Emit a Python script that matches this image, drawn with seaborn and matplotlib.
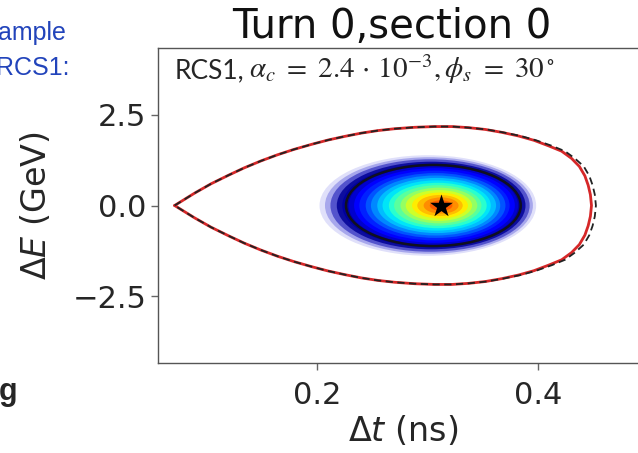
import pandas as pd
import seaborn as sns
import matplotlib.pyplot as plt
from matplotlib.patches import Ellipse

# separatrix, upper half, lower half is the mirror
t_sep = [0.071, 0.080, 0.089, 0.104, 0.120, 0.134, 0.149, 0.164, 0.179, 0.195,
         0.210, 0.225, 0.240, 0.255, 0.270, 0.288, 0.306, 0.322, 0.337, 0.352,
         0.367, 0.382, 0.396, 0.409, 0.421, 0.430, 0.437, 0.442, 0.445, 0.447, 0.448]
dE_sep = [0.00, 0.17, 0.34, 0.60, 0.84, 1.04, 1.23, 1.40, 1.55, 1.69,
          1.81, 1.91, 2.00, 2.07, 2.12, 2.16, 2.18, 2.18, 2.15, 2.10,
          2.02, 1.92, 1.80, 1.65, 1.50, 1.30, 1.08, 0.82, 0.56, 0.30, 0.00]
# dashed separatrix sits a little further out on the right side
t_sep_dash = [0.071, 0.080, 0.089, 0.104, 0.120, 0.134, 0.149, 0.164, 0.179, 0.195,
              0.210, 0.225, 0.240, 0.255, 0.270, 0.288, 0.306, 0.322, 0.337, 0.353,
              0.368, 0.384, 0.398, 0.412, 0.424, 0.433, 0.441, 0.446, 0.449, 0.451, 0.452]

# bunch: nested bands, outside -> inside
ring_t0, ring_wt, ring_wE = 0.305, 0.079, 1.12   # black contour
band_r = [1.24, 1.19, 1.14, 1.08, 1.03, 0.97, 0.92, 0.86, 0.80, 0.74,
          0.68, 0.62, 0.56, 0.50, 0.44, 0.38, 0.32, 0.26, 0.20, 0.13]
band_t0 = [0.300, 0.301, 0.302, 0.303, 0.304, 0.305, 0.306, 0.306, 0.307, 0.307,
           0.308, 0.308, 0.309, 0.309, 0.310, 0.310, 0.311, 0.311, 0.312, 0.312]
band_lvl = [0.08, 0.06, 0.04, 0.02, 0.03, 0.07, 0.11, 0.16, 0.21, 0.26,
            0.31, 0.35, 0.40, 0.46, 0.53, 0.60, 0.66, 0.71, 0.76, 0.81]
band_alpha = [0.12, 0.25, 0.5, 0.85, 1, 1, 1, 1, 1, 1,
              1, 1, 1, 1, 1, 1, 1, 1, 1, 1]
star = (0.312, 0.0)

x_ticks = [0.2, 0.4]
y_ticks = [-2.5, 0.0, 2.5]


def main():
    sns.set_style("ticks")
    plt.rcParams['font.family'] = ['DejaVu Sans']
    plt.rcParams['mathtext.fontset'] = 'dejavusans'

    fig = plt.figure(figsize=(6.38, 4.53), dpi=100)
    ax = fig.add_axes([158 / 638, 1 - 363 / 453, (649 - 158) / 638, (363 - 48) / 453])

    cmap = plt.get_cmap('jet')
    for r, t0, lv, al in zip(band_r, band_t0, band_lvl, band_alpha):
        ax.add_patch(Ellipse((t0, 0), 2 * ring_wt * r, 2 * ring_wE * r,
                             color=cmap(lv), alpha=al, lw=0))
    ax.add_patch(Ellipse((ring_t0, 0), 2 * ring_wt, 2 * ring_wE, fill=False,
                         ec='#101020', lw=1.8))

    t_loop = t_sep + t_sep[::-1]
    dE_loop = dE_sep + [-v for v in dE_sep[::-1]]
    red = pd.DataFrame({'t': t_loop, 'dE': dE_loop})
    dash = pd.DataFrame({'t': t_sep_dash + t_sep_dash[::-1], 'dE': dE_loop})
    sns.lineplot(data=red, x='t', y='dE', sort=False, estimator=None,
                 color='#d62728', lw=2, ax=ax)
    sns.lineplot(data=dash, x='t', y='dE', sort=False, estimator=None,
                 color='#222222', lw=1.3, linestyle=(0, (4, 2.5)), ax=ax)

    sns.scatterplot(x=[star[0]], y=[star[1]], marker='*', s=300, color='k',
                    linewidth=0, zorder=5, ax=ax)

    ax.set_xlim(0.056, 0.5)
    ax.set_ylim(-4.35, 4.35)
    ax.set_xticks(x_ticks)
    ax.set_yticks(y_ticks)
    ax.set_yticklabels(['\u22122.5', '0.0', '2.5'])
    ax.tick_params(labelsize=22, color='#666666', length=5, width=1)
    ax.tick_params(axis='x', pad=8)
    for s in ax.spines.values():
        s.set_color('#555555')
        s.set_linewidth(1)
    ax.set_xlabel(r'$\Delta t$ (ns)', fontsize=24, labelpad=3)
    ax.set_ylabel(r'$\Delta E$ (GeV)', fontsize=24, labelpad=14)

    fig.text(392 / 638, 1 - 38 / 453, 'Turn 0,section 0', fontsize=29,
             ha='center', va='baseline', color='#111111')
    # annotation pasted on the slide: sans text + math in a serif face
    fig.text(175 / 638, 1 - 78 / 453, 'RCS1,', fontsize=19, family='Lato',
             ha='left', va='baseline')
    fig.text(249 / 638, 1 - 78 / 453,
             r'$\alpha_c\ =\ 2.4\,\cdot\,10^{-3},\phi_s\ =\ 30^\circ$',
             fontsize=21, math_fontfamily='stix', ha='left', va='baseline')

    # bits of the slide around the picture
    fig.text(66 / 638, 1 - 40 / 453, 'ample', fontsize=18, family='Liberation Sans',
             color='#2244bb', ha='right', va='baseline')
    fig.text(70 / 638, 1 - 75 / 453, 'RCS1:', fontsize=18, family='Liberation Sans',
             color='#2244bb', ha='right', va='baseline')
    fig.text(17 / 638, 1 - 400 / 453, 'g', fontsize=22, family='Liberation Sans',
             weight='bold', ha='right', va='baseline')

    fig.savefig('out.png', dpi=100)


if __name__ == "__main__":
    main()
